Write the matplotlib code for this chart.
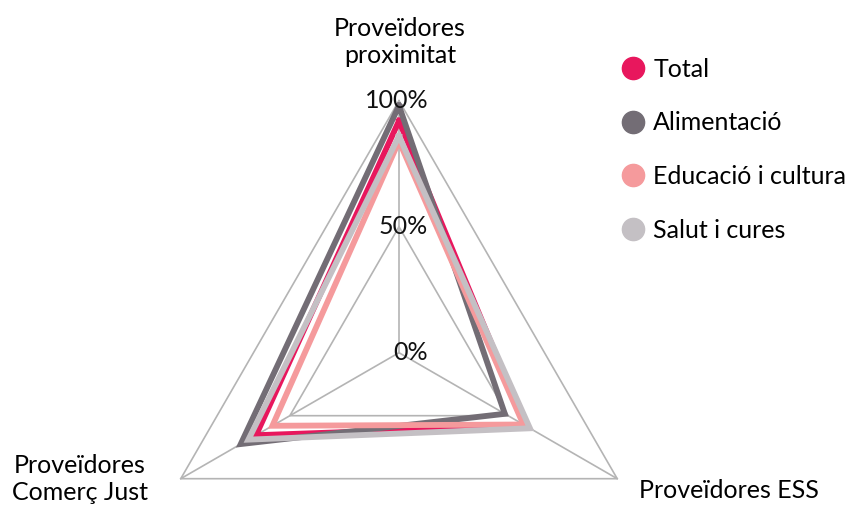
import numpy as np
import matplotlib.pyplot as plt
from matplotlib.lines import Line2D

plt.rcParams['font.family'] = ['Lato', 'DejaVu Sans']

# Data
categories = ['Proveïdores\nproximitat', 'Proveïdores ESS', 'Proveïdores\nComerç Just']
series = ['Total', 'Alimentació', 'Educació i cultura', 'Salut i cures']
total = [0.92, 0.58, 0.655]
alimentacio = [0.98, 0.485, 0.725]
educacio = [0.84, 0.57, 0.58]
salut = [0.86, 0.60, 0.69]
colors = ['#E8175D', '#736D75', '#F59A9C', '#C4C0C4']
grid_levels = [0.5, 1.0]
tick_labels = ['0%', '50%', '100%']

values = [total, alimentacio, educacio, salut]
angles = np.deg2rad([0, 120, 240])
closed = np.append(angles, angles[0])

fig = plt.figure(figsize=(8.55, 5.07), dpi=100)
ax = fig.add_axes([0.1719, -0.1927, 0.5895, 0.9941], projection='polar')
ax.set_theta_offset(np.pi / 2)
ax.set_theta_direction(-1)
ax.set_ylim(0, 1)
ax.grid(False)
ax.spines['polar'].set_visible(False)
ax.set_xticks([])
ax.set_yticks([])
ax.patch.set_alpha(0)

grid_color = '#B4B4B4'
for lev in grid_levels:
    ax.plot(closed, [lev] * 4, color=grid_color, lw=1.2, clip_on=False, zorder=1)
for a in angles:
    ax.plot([a, a], [0, 1], color=grid_color, lw=1.2, clip_on=False, zorder=1)

for name, vals, c in zip(series, values, colors):
    ax.plot(closed, vals + vals[:1], color=c, lw=4.2, solid_joinstyle='miter',
            clip_on=False, zorder=3, label=name)

fs = 18

# radial tick labels
for lev, lab in zip([0, 0.5, 1.0], tick_labels):
    ax.annotate(lab, xy=(0, lev), xytext=(21, 0), textcoords='offset points',
                ha='right', va='center', fontsize=fs, color='#111111', zorder=5,
                annotation_clip=False)

# category labels
fig.text(400 / 855, 1 - 42 / 507, categories[0], ha='center', va='center',
         fontsize=fs, linespacing=1.2)
fig.text(729 / 855, 1 - 490 / 507, categories[1], ha='center', va='center', fontsize=fs)
fig.text(80 / 855, 1 - 479 / 507, categories[2], ha='center', va='center',
         fontsize=fs, linespacing=1.2)

handles = [Line2D([], [], marker='o', ls='none', markersize=16, markerfacecolor=c,
                  markeredgecolor=c) for c in colors]
fig.legend(handles, series, loc='upper left', bbox_to_anchor=(622 / 855, 1 - 58 / 507),
           frameon=False, fontsize=fs, handletextpad=0.35, labelspacing=1.22,
           handlelength=0.9, borderpad=0, borderaxespad=0)

fig.savefig('out.png', dpi=100)
